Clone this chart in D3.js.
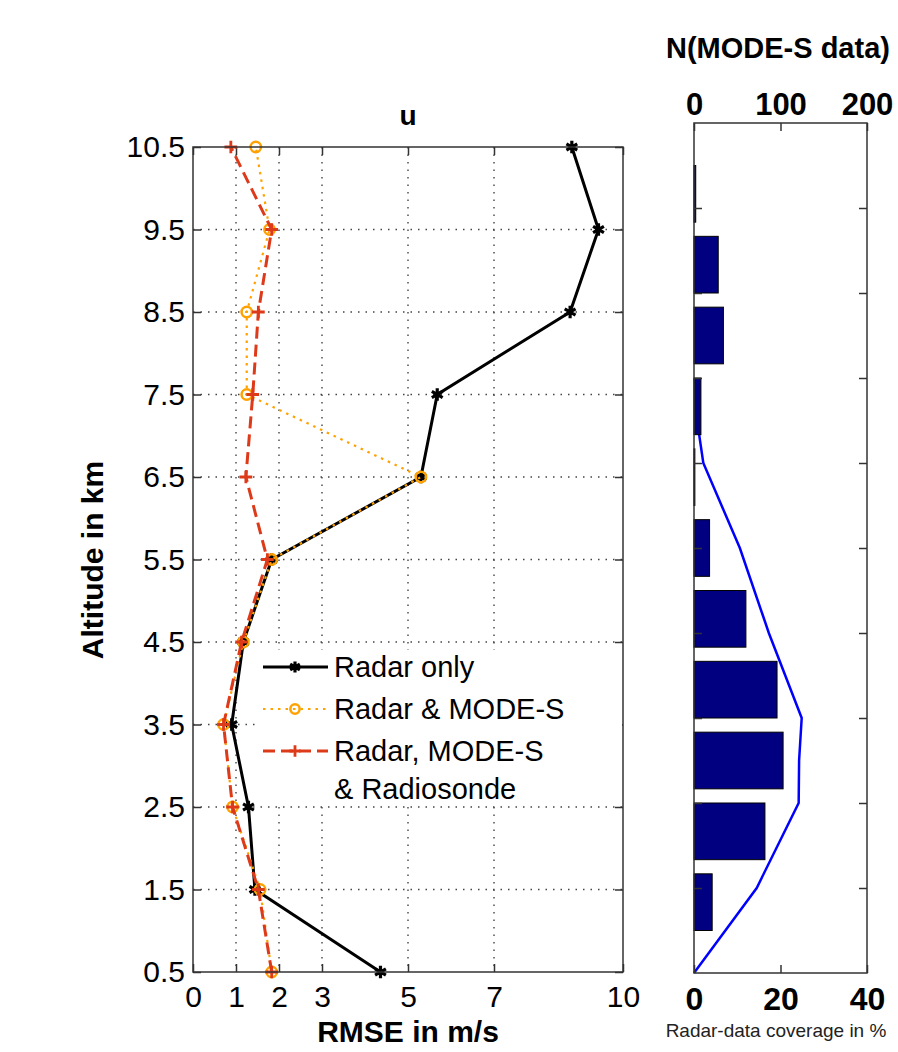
<!DOCTYPE html>
<html lang="en">
<head>
<meta charset="UTF-8" />
<title>RMSE of u by altitude</title>
<style>
  body { margin: 0; background: #fff; }
  svg text { font-family: Arial, "Liberation Sans", sans-serif; }
</style>
</head>
<body>
<div id="chart"></div>
<script src="https://d3js.org/d3.v7.min.js"></script>
<script>
// altitude levels (km) and RMSE of u (m/s) per experiment
const altitudes = [0.5, 1.5, 2.5, 3.5, 4.5, 5.5, 6.5, 7.5, 8.5, 9.5, 10.5];
const radarOnly = [4.36, 1.44, 1.29, 0.90, 1.17, 1.83, 5.30, 5.68, 8.77, 9.43, 8.81];
const radarModeS = [1.83, 1.56, 0.92, 0.71, 1.17, 1.83, 5.30, 1.25, 1.25, 1.78, 1.46];
const radarModeSSonde = [1.83, 1.52, 0.92, 0.71, 1.13, 1.73, 1.23, 1.39, 1.52, 1.83, 0.88];
const rmseTicks = [0, 1, 2, 3, 5, 7, 10];

// right panel: number of MODE-S data per bin and radar coverage
const bins = [1, 2, 3, 4, 5, 6, 7, 8, 9, 10, 11];
const modeSCount = [21, 82, 103, 96, 60, 18, 1, 8, 34, 28, 2];
const countTicks = [0, 100, 200];
const coverageLevel = [0, 1, 2, 2.5, 3, 4, 5, 6, 6.33, 7];
const coveragePct = [0, 14.5, 24.2, 24.3, 24.9, 17.3, 10.6, 2.15, 1.2, 0.2];
const coverageTicks = [0, 20, 40];
const sideTicks = [1, 2, 3, 4, 5, 6, 7, 8, 9];

const svg = d3.select("#chart").append("svg")
  .attr("width", 898)
  .attr("height", 1052);

svg.append("rect").attr("width", 898).attr("height", 1052).attr("fill", "#fff");

// ---------- left panel ----------
const L = { left: 193, right: 623, top: 147, bottom: 972 };
const x = d3.scaleLinear().domain([0, 10]).range([L.left, L.right]);
const y = d3.scaleLinear().domain([0.5, 10.5]).range([L.bottom, L.top]);

const grid = svg.append("g")
  .attr("stroke", "#444")
  .attr("stroke-width", 1.4)
  .attr("stroke-dasharray", "1.5,6");

grid.selectAll(".gy").data(altitudes.slice(1, -1)).join("line")
  .attr("x1", L.left).attr("x2", L.right)
  .attr("y1", d => y(d)).attr("y2", d => y(d));

grid.selectAll(".gx").data(rmseTicks.slice(1, -1)).join("line")
  .attr("y1", L.top).attr("y2", L.bottom)
  .attr("x1", d => x(d)).attr("x2", d => x(d));

function styleAxis(g, size) {
  g.select(".domain").remove();
  g.selectAll(".tick line").attr("stroke", "#333").attr("stroke-width", 1.5);
  g.selectAll("text").attr("fill", "#000").attr("font-size", size);
}

svg.append("g")
  .attr("transform", `translate(${L.left},0)`)
  .call(d3.axisLeft(y).tickValues(altitudes).tickFormat(d3.format(".1f"))
    .tickSizeInner(-8).tickSizeOuter(0).tickPadding(8))
  .call(g => styleAxis(g, "30px"));

svg.append("g")
  .attr("transform", `translate(${L.right},0)`)
  .call(d3.axisRight(y).tickValues(altitudes).tickFormat("").tickSizeInner(-8).tickSizeOuter(0))
  .call(g => styleAxis(g, "30px"));

svg.append("g")
  .attr("transform", `translate(0,${L.bottom})`)
  .call(d3.axisBottom(x).tickValues(rmseTicks).tickFormat(d3.format("d"))
    .tickSizeInner(-8).tickSizeOuter(0).tickPadding(14))
  .call(g => styleAxis(g, "30px"));

svg.append("g")
  .attr("transform", `translate(0,${L.top})`)
  .call(d3.axisTop(x).tickValues(rmseTicks).tickFormat("").tickSizeInner(-8).tickSizeOuter(0))
  .call(g => styleAxis(g, "30px"));

// series
const series = [
  { values: radarOnly, color: "#000", width: 3, dash: null, symbol: d3.symbolAsterisk, size: 110, mw: 3.2, label: "Radar only" },
  { values: radarModeS, color: "#ffa200", width: 2.2, dash: "2.5,5", symbol: d3.symbolCircle, size: 85, mw: 2.5, label: "Radar & MODE-S" },
  { values: radarModeSSonde, color: "#dd3a1a", width: 3, dash: "12,6", symbol: d3.symbolPlus, size: 55, mw: 2.8, label: "Radar, MODE-S" }
];

const line = d3.line().x(d => x(d[0])).y(d => y(d[1]));

series.forEach(s => {
  const pts = s.values.map((v, i) => [v, altitudes[i]]);
  svg.append("path")
    .datum(pts)
    .attr("d", line)
    .attr("fill", "none")
    .attr("stroke", s.color)
    .attr("stroke-width", s.width)
    .attr("stroke-dasharray", s.dash);
  svg.append("g").selectAll("path").data(pts).join("path")
    .attr("transform", d => `translate(${x(d[0])},${y(d[1])})`)
    .attr("d", d3.symbol(s.symbol, s.size))
    .attr("fill", "none")
    .attr("stroke", s.color)
    .attr("stroke-width", s.mw);
});

// legend
const legend = svg.append("g");
legend.append("rect")
  .attr("x", 257).attr("y", 650)
  .attr("width", L.right - 258).attr("height", 153)
  .attr("fill", "#fff");

series.forEach((s, i) => {
  const ly = 667 + i * 42;
  legend.append("line")
    .attr("x1", 263).attr("x2", 328).attr("y1", ly).attr("y2", ly)
    .attr("stroke", s.color).attr("stroke-width", s.width)
    .attr("stroke-dasharray", s.dash);
  legend.append("path")
    .attr("transform", `translate(295,${ly})`)
    .attr("d", d3.symbol(s.symbol, s.size * 0.8))
    .attr("fill", "none").attr("stroke", s.color).attr("stroke-width", s.mw);
  legend.append("text")
    .attr("x", 334).attr("y", ly + 10)
    .attr("font-size", "29px")
    .text(s.label);
});
legend.append("text")
  .attr("x", 334).attr("y", 799)
  .attr("font-size", "29px")
  .text("& Radiosonde");

svg.append("rect")
  .attr("x", L.left).attr("y", L.top)
  .attr("width", L.right - L.left).attr("height", L.bottom - L.top)
  .attr("fill", "none").attr("stroke", "#333").attr("stroke-width", 1.5);

svg.append("text")
  .attr("x", (L.left + L.right) / 2).attr("y", 125)
  .attr("text-anchor", "middle").attr("font-size", "28px").attr("font-weight", "bold")
  .text("u");

svg.append("text")
  .attr("x", (L.left + L.right) / 2).attr("y", 1042)
  .attr("text-anchor", "middle").attr("font-size", "30px").attr("font-weight", "bold")
  .text("RMSE in m/s");

svg.append("text")
  .attr("transform", `translate(103,560) rotate(-90)`)
  .attr("text-anchor", "middle").attr("font-size", "30px").attr("font-weight", "bold")
  .text("Altitude in km");

// ---------- right panel ----------
const R = { left: 694, right: 867, top: 123, bottom: 973 };
const xN = d3.scaleLinear().domain([0, 200]).range([R.left, R.right]);
const xC = d3.scaleLinear().domain([0, 40]).range([R.left, R.right]);
const yBin = d3.scaleLinear().domain([0, 12]).range([R.bottom, R.top]);
const yLev = d3.scaleLinear().domain([0, 10]).range([R.bottom, R.top]);

svg.append("path")
  .datum(coverageLevel.map((lv, i) => [coveragePct[i], lv]))
  .attr("d", d3.line().x(d => xC(d[0])).y(d => yLev(d[1])))
  .attr("fill", "none")
  .attr("stroke", "#0000ff")
  .attr("stroke-width", 2.5);

svg.append("g").selectAll("rect").data(bins).join("rect")
  .attr("x", xN(0))
  .attr("y", d => yBin(d + 0.4))
  .attr("width", (d, i) => xN(modeSCount[i]) - xN(0))
  .attr("height", yBin(0) - yBin(0.8))
  .attr("fill", "#000080")
  .attr("stroke", "#000")
  .attr("stroke-width", 1);

svg.append("g")
  .attr("transform", `translate(${R.left},0)`)
  .call(d3.axisLeft(yLev).tickValues(sideTicks).tickFormat("").tickSizeInner(-8).tickSizeOuter(0))
  .call(g => styleAxis(g, "30px"));

svg.append("g")
  .attr("transform", `translate(${R.right},0)`)
  .call(d3.axisRight(yLev).tickValues(sideTicks).tickFormat("").tickSizeInner(-8).tickSizeOuter(0))
  .call(g => styleAxis(g, "30px"));

svg.append("g")
  .attr("transform", `translate(0,${R.top})`)
  .call(d3.axisTop(xN).tickValues(countTicks).tickFormat(d3.format("d"))
    .tickSizeInner(-8).tickSizeOuter(0).tickPadding(8))
  .call(g => styleAxis(g, "31px"))
  .call(g => g.selectAll("text").attr("font-weight", "bold"));

svg.append("g")
  .attr("transform", `translate(0,${R.bottom})`)
  .call(d3.axisBottom(xC).tickValues(coverageTicks).tickFormat(d3.format("d"))
    .tickSizeInner(-8).tickSizeOuter(0).tickPadding(14))
  .call(g => styleAxis(g, "32px"))
  .call(g => g.selectAll("text").attr("font-weight", "bold"));

svg.append("rect")
  .attr("x", R.left).attr("y", R.top)
  .attr("width", R.right - R.left).attr("height", R.bottom - R.top)
  .attr("fill", "none").attr("stroke", "#333").attr("stroke-width", 1.5);

svg.append("text")
  .attr("x", 666).attr("y", 58)
  .attr("font-size", "29px").attr("font-weight", "bold")
  .text("N(MODE-S data)");

svg.append("text")
  .attr("x", 776).attr("y", 1037)
  .attr("text-anchor", "middle").attr("font-size", "19px").attr("fill", "#222")
  .text("Radar-data coverage in %");
</script>
</body>
</html>
